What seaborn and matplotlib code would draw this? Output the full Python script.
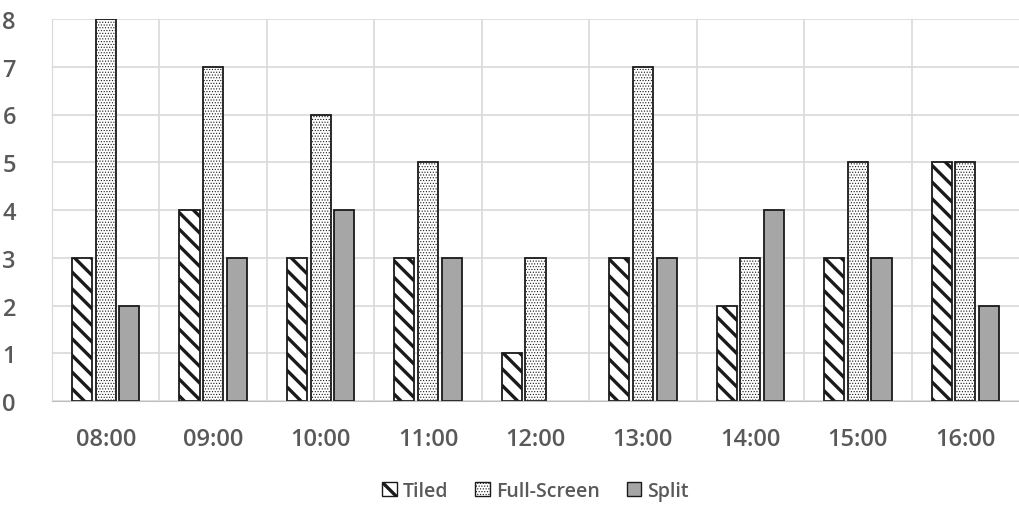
import numpy as np
import pandas as pd
import matplotlib.pyplot as plt
import seaborn as sns
from matplotlib.ticker import FixedLocator

hours = ['08:00', '09:00', '10:00', '11:00', '12:00', '13:00', '14:00', '15:00', '16:00']
tiled = [3, 4, 3, 3, 1, 3, 2, 3, 5]
full_screen = [8, 7, 6, 5, 3, 7, 3, 5, 5]
split = [2, 3, 4, 3, 0, 3, 4, 3, 2]
series = ['Tiled', 'Full-Screen', 'Split']

df = pd.DataFrame({'hour': hours * 3,
                   'mode': sum([[s] * len(hours) for s in series], []),
                   'count': tiled + full_screen + split})

sns.set_style('white')
plt.rcParams['font.family'] = ['Open Sans', 'DejaVu Sans']
plt.rcParams['hatch.color'] = 'black'

fig = plt.figure(figsize=(10.2, 5.06), dpi=100)
ax = fig.add_axes([52 / 1020, 104 / 506, 967 / 1020, 382 / 506])

sns.barplot(data=df, x='hour', y='count', hue='mode', order=hours, hue_order=series,
            palette=['white', 'white', '#A6A6A6'], width=0.66, gap=0.15,
            edgecolor='#1a1a1a', linewidth=1.3, ax=ax, legend=True)

hatches = ['\\\\', '......', '']
hatch_lw = [2.4, 0.5, 1.0]


def style_patch(p, h, lw):
    p.set_hatch(h)
    if hasattr(p, 'set_hatch_linewidth'):
        p.set_hatch_linewidth(lw)


for cont, h, lw in zip(ax.containers, hatches, hatch_lw):
    for bar in cont:
        style_patch(bar, h, lw)
        if bar.get_height() == 0:
            bar.set_visible(False)

ax.set_ylim(0, 8)
ax.set_xlim(-0.5, len(hours) - 0.5)
ax.set_yticks(range(9))
ax.xaxis.set_minor_locator(FixedLocator(np.arange(0.5, len(hours) - 0.5, 1)))
ax.grid(axis='y', color='#D9D9D9', linewidth=1.2)
ax.grid(axis='x', which='minor', color='#D9D9D9', linewidth=1.2)
ax.set_axisbelow(True)
for side in ['top', 'right']:
    ax.spines[side].set_visible(False)
ax.spines['left'].set_color('#D9D9D9')
ax.spines['bottom'].set_color('#BFBFBF')
ax.tick_params(axis='both', which='both', length=0, labelsize=17, labelcolor='#595959')
ax.tick_params(axis='x', pad=19)
ax.tick_params(axis='y', pad=26)
for lbl in ax.get_xticklabels() + ax.get_yticklabels():
    lbl.set_fontweight('semibold')
ax.set_xlabel('')
ax.set_ylabel('')

leg = ax.legend(loc='center', bbox_to_anchor=(0.5, -0.235), ncol=3, frameon=False,
                handlelength=0.75, handleheight=0.75, handletextpad=0.3, columnspacing=1.4,
                prop={'size': 14, 'weight': 'semibold'})
for t in leg.get_texts():
    t.set_color('#595959')
for p, h, lw in zip(leg.get_patches(), hatches, hatch_lw):
    p.set_linewidth(1.0)
    style_patch(p, h, lw)

fig.savefig('out.png', dpi=100)
